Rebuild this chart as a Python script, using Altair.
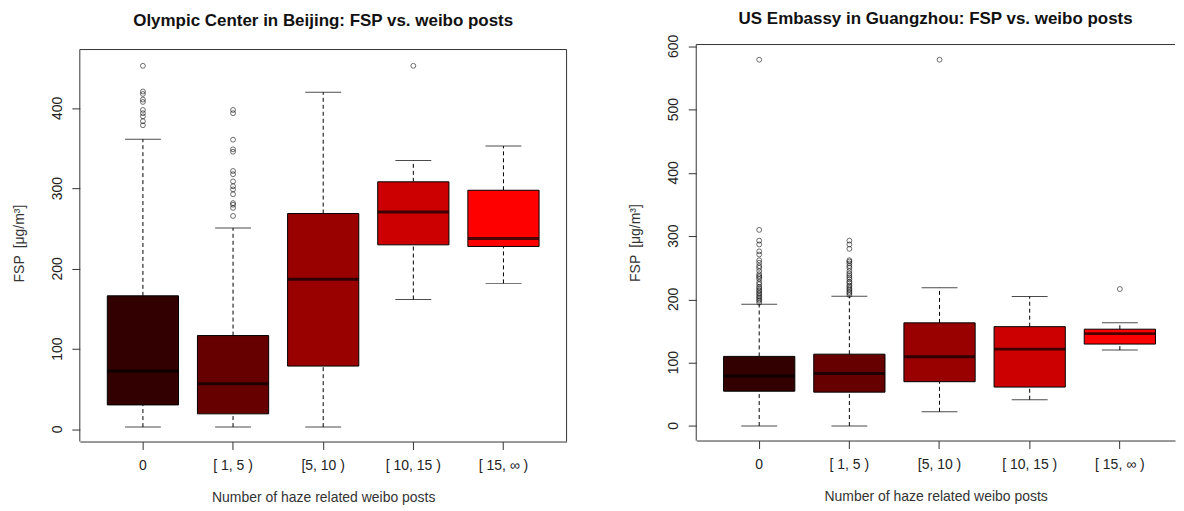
import altair as alt
import pandas as pd

cats = ["0", "[ 1, 5 )", "[5, 10 )", "[ 10, 15 )", "[ 15, \u221e )"]
fills = ["#330000", "#660000", "#990000", "#CC0000", "#FF0000"]

# Olympic Center in Beijing
bj_ticks = [0, 100, 200, 300, 400]
bj_low = [3, 3, 3, 162, 182]
bj_q1 = [30.6, 19.5, 79, 230, 228]
bj_med = [73, 57, 187, 271, 238]
bj_q3 = [166.5, 117, 269, 308.5, 298]
bj_high = [361.5, 251, 420, 335, 353]
bj_out_0 = [453, 421, 418, 411, 408, 398, 394, 390, 384, 379]
bj_out_1 = [398, 394, 361, 349, 346, 322, 318, 309, 303, 299, 293, 282, 280, 276, 266]
bj_out_2 = []
bj_out_3 = [453]
bj_out_4 = []

# US Embassy in Guangzhou
gz_ticks = [0, 100, 200, 300, 400, 500, 600]
gz_low = [0, 0, 22.5, 41.5, 120]
gz_q1 = [55, 53.5, 70, 61.5, 129.5]
gz_med = [79, 83, 109.5, 121.5, 146]
gz_q3 = [110, 113.5, 163, 157, 153]
gz_high = [192.5, 205, 218.5, 204.5, 163]
gz_out_0 = [579, 310, 293, 287, 276, 271, 262, 258, 253, 250, 245, 240, 237,
            235, 232, 227, 224, 220, 218, 215, 213, 210, 208, 205, 203, 200,
            198, 195]
gz_out_1 = [293, 287, 280, 262, 260, 257, 253, 250, 245, 241, 238, 235, 232,
            228, 226, 222, 220, 217, 215, 212, 210, 207]
gz_out_2 = [579]
gz_out_3 = []
gz_out_4 = [216.5]

FONT = "Liberation Sans"
TXT = "#222222"
LINE = "#333333"


def panel(title, low, q1, med, q3, high, outs, ydom, yvals, width, height,
          frame_top, pad_outer, align, t_dy):
    stats = pd.DataFrame({"cat": cats, "low": low, "q1": q1, "med": med,
                          "q3": q3, "high": high})
    rows = []
    for c, vals in zip(cats, outs):
        for v in vals:
            rows.append({"cat": c, "val": v})
    out = pd.DataFrame(rows, columns=["cat", "val"])
    ticks = pd.DataFrame({"v": yvals, "lbl": [str(v) for v in yvals]})

    xs = alt.Scale(type="band", domain=cats, paddingInner=0,
                   paddingOuter=pad_outer, align=align)
    x = alt.X("cat:N", scale=xs, sort=cats,
              axis=alt.Axis(title="Number of haze related weibo posts",
                            labelAngle=0, tickSize=8, labelPadding=9,
                            titlePadding=18, domain=True,
                            domainColor=LINE, tickColor=LINE,
                            labelColor=TXT, titleColor=LINE,
                            labelFontSize=14, titleFontSize=14,
                            titleFontWeight="normal", labelFont=FONT,
                            titleFont=FONT, grid=False))
    ys = alt.Scale(domain=ydom, nice=False, zero=False)
    yaxis = alt.Axis(title="FSP\u2002[\u03bcg/m\u00b3]", values=yvals,
                     labels=False, tickSize=8,
                     titlePadding=45, domain=False,
                     tickColor=LINE, titleColor=LINE,
                     titleFontSize=14, titleFontWeight="normal",
                     titleFont=FONT, grid=False)

    base = alt.Chart(stats)
    wu = base.mark_rule(color="black", strokeWidth=1, strokeDash=[4, 3]).encode(
        x=x, y=alt.Y("q3:Q", scale=ys, axis=yaxis), y2="high:Q")
    wl = base.mark_rule(color="black", strokeWidth=1, strokeDash=[4, 3]).encode(
        x=x, y=alt.Y("low:Q", scale=ys, axis=yaxis), y2="q1:Q")
    box = base.mark_bar(width=alt.RelativeBandSize(0.79), stroke="black",
                        strokeWidth=1).encode(
        x=x, y=alt.Y("q1:Q", scale=ys, axis=yaxis), y2="q3:Q",
        fill=alt.Fill("cat:N", scale=alt.Scale(domain=cats, range=fills),
                      legend=None))
    medt = base.mark_tick(color="black", thickness=3, size=71).encode(
        x=x, y=alt.Y("med:Q", scale=ys, axis=yaxis))
    capu = base.mark_tick(color="black", thickness=1, size=36).encode(
        x=x, y=alt.Y("high:Q", scale=ys, axis=yaxis))
    capl = base.mark_tick(color="black", thickness=1, size=36).encode(
        x=x, y=alt.Y("low:Q", scale=ys, axis=yaxis))
    pts = alt.Chart(out).mark_point(shape="circle", filled=False, size=24,
                                    color="black", strokeWidth=0.8).encode(
        x=x, y=alt.Y("val:Q", scale=ys, axis=yaxis))
    # rotated y tick labels (read bottom to top)
    tl = alt.Chart(ticks).mark_text(angle=270, align="center",
                                    baseline="alphabetic", fontSize=14,
                                    font=FONT, color=TXT).encode(
        y=alt.Y("v:Q", scale=ys, axis=yaxis), x=alt.value(-18),
        text="lbl:N")

    # plot frame (box drawn round the plot region)
    fr = alt.Chart(stats.head(1))
    top = fr.mark_rule(color=LINE, strokeWidth=1).encode(
        x=alt.value(0), x2=alt.value(width), y=alt.value(frame_top))
    lft = fr.mark_rule(color=LINE, strokeWidth=1).encode(
        x=alt.value(0), y=alt.value(frame_top), y2=alt.value(height))
    layers = [wu, wl, box, medt, capu, capl, pts, tl, top, lft]
    if frame_top > 0:
        rgt = fr.mark_rule(color=LINE, strokeWidth=1).encode(
            x=alt.value(width), y=alt.value(frame_top), y2=alt.value(height))
        layers.append(rgt)

    ch = alt.layer(*layers).properties(
        width=width, height=height,
        view=alt.ViewBackground(stroke="transparent"),
        title=alt.TitleParams(title, fontSize=17, fontWeight="bold",
                              font=FONT, color="#111111", anchor="middle",
                              frame="group", offset=7, dy=t_dy))
    return ch


# left panel: frame top 5px below the plot-area top; domain extended so that
# value positions match the frame
left = panel("Olympic Center in Beijing: FSP vs. weibo posts",
             bj_low, bj_q1, bj_med, bj_q3, bj_high,
             [bj_out_0, bj_out_1, bj_out_2, bj_out_3, bj_out_4],
             [-15, 479.5], bj_ticks, 488, 398, 5,
             0.2, 0.5, -8)
right = panel("US Embassy in Guangzhou: FSP vs. weibo posts",
              gz_low, gz_q1, gz_med, gz_q3, gz_high,
              [gz_out_0, gz_out_1, gz_out_2, gz_out_3, gz_out_4],
              [-23, 603], gz_ticks, 480, 397, 0,
              0.155, 0.64, 0)

chart = alt.hconcat(left, right, spacing=61).properties(
    padding={"left": 4, "top": 0, "right": 0, "bottom": 0}
).configure(font=FONT)

chart.save("out.html", embed_options={"renderer": "svg", "actions": False})
